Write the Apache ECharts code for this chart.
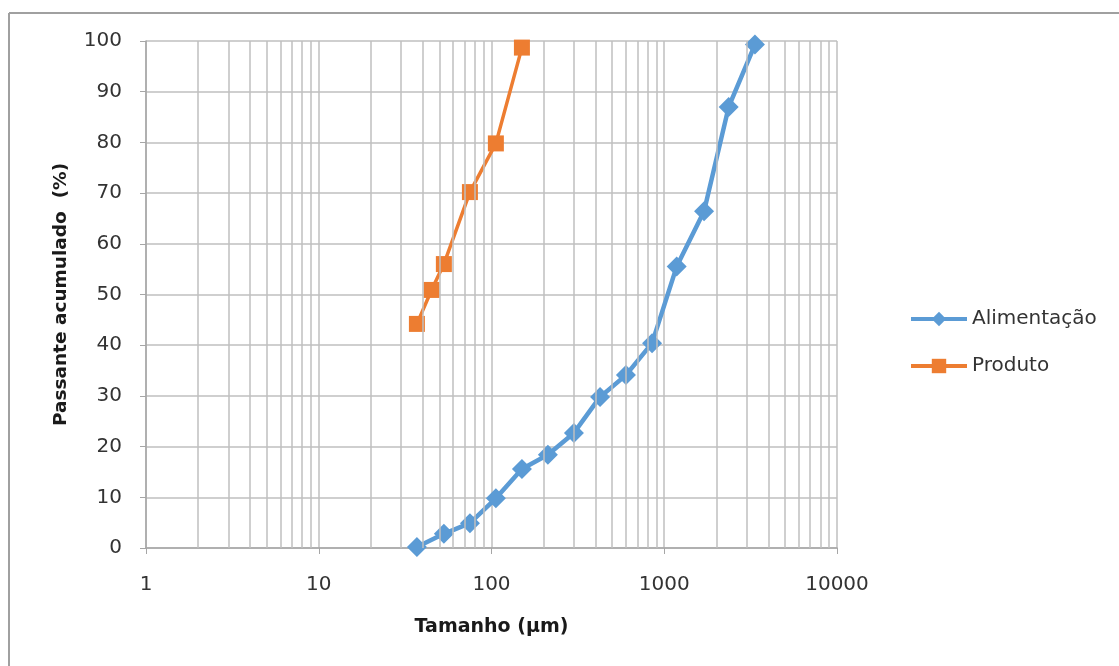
<!DOCTYPE html>
<html>
<head>
<meta charset="utf-8">
<script src="https://cdn.jsdelivr.net/npm/echarts@6/dist/echarts.min.js"></script>
<style>
html,body{margin:0;padding:0;background:#fff;}
#c{width:1119px;height:666px;}
</style>
</head>
<body>
<div id="c"></div>
<script>
// Data
const alimentacaoSize = [37, 53, 75, 106, 150, 212, 300, 425, 600, 850, 1180, 1700, 2360, 3350];
const alimentacaoPass = [0.2, 2.8, 4.9, 9.8, 15.6, 18.4, 22.7, 29.8, 34.1, 40.4, 55.5, 66.4, 87.0, 99.3];
const produtoSize = [37, 45, 53, 75, 106, 150];
const produtoPass = [44.2, 50.9, 56.0, 70.2, 79.8, 98.7];
const xTickLabels = [1, 10, 100, 1000, 10000];
const minorGridValues = [2,3,4,5,6,7,8,9,20,30,40,50,60,70,80,90,200,300,400,500,600,700,800,900,2000,3000,4000,5000,6000,7000,8000,9000];
const seriesNames = ['Alimentação', 'Produto'];

const FONT = '"DejaVu Sans", "Open Sans", sans-serif';
const GRID_COLOR = '#BFBFBF';
const AXIS_COLOR = '#A6A6A6';

const chart = echarts.init(document.getElementById('c'), null, {renderer: 'canvas'});
chart.setOption({
  animation: false,
  backgroundColor: '#fff',
  graphic: [
    {type: 'line', shape: {x1: 9, y1: 13, x2: 1119, y2: 13}, style: {stroke: '#A0A0A0', lineWidth: 2}},
    {type: 'line', shape: {x1: 9, y1: 13, x2: 9, y2: 666}, style: {stroke: '#A0A0A0', lineWidth: 2}}
  ],
  grid: {left: 146, right: 282, top: 41, bottom: 118, containLabel: false},
  legend: {
    data: seriesNames,
    orient: 'vertical',
    left: 904,
    top: 304,
    itemWidth: 56,
    itemHeight: 18,
    itemGap: 27,
    lineStyle: {width: 4},
    textStyle: {fontFamily: FONT, fontSize: 20, color: '#333333'}
  },
  xAxis: {
    type: 'log',
    logBase: 10,
    min: 1,
    max: 10000,
    name: 'Tamanho (µm)',
    nameLocation: 'middle',
    nameGap: 70,
    nameTextStyle: {fontFamily: FONT, fontSize: 19, fontWeight: 'bold', color: '#1a1a1a'},
    axisLine: {show: true, lineStyle: {color: AXIS_COLOR, width: 1.5}},
    axisTick: {show: true, length: 6, lineStyle: {color: AXIS_COLOR}},
    axisLabel: {fontFamily: FONT, fontSize: 20, color: '#333333', margin: 27,
      formatter: function (v) { return xTickLabels.indexOf(v) >= 0 ? String(v) : ''; }},
    splitLine: {show: true, lineStyle: {color: GRID_COLOR, width: 1.5}}
  },
  yAxis: {
    type: 'value',
    min: 0,
    max: 100,
    interval: 10,
    name: 'Passante acumulado  (%)',
    nameLocation: 'middle',
    nameRotate: 90,
    nameGap: 75,
    nameTextStyle: {fontFamily: FONT, fontSize: 18.5, fontWeight: 'bold', color: '#1a1a1a'},
    axisLine: {show: true, lineStyle: {color: AXIS_COLOR, width: 1.5}},
    axisTick: {show: true, length: 6, lineStyle: {color: AXIS_COLOR}},
    axisLabel: {fontFamily: FONT, fontSize: 20, color: '#333333', margin: 24},
    splitLine: {show: true, lineStyle: {color: GRID_COLOR, width: 1.5}}
  },
  series: [
    {
      name: 'minorGrid',
      type: 'line',
      data: [],
      silent: true,
      z: 0,
      markLine: {
        silent: true,
        symbol: ['none', 'none'],
        label: {show: false},
        animation: false,
        lineStyle: {type: 'solid', color: GRID_COLOR, width: 1.5},
        emphasis: {disabled: true},
        data: minorGridValues.map(v => ({xAxis: v}))
      }
    },
    {
      name: seriesNames[0],
      type: 'line',
      z: 3,
      data: alimentacaoSize.map((s, i) => [s, alimentacaoPass[i]]),
      symbol: 'diamond',
      symbolSize: 20,
      lineStyle: {color: '#5B9BD5', width: 4.5},
      itemStyle: {color: '#5B9BD5'}
    },
    {
      name: seriesNames[1],
      type: 'line',
      z: 4,
      data: produtoSize.map((s, i) => [s, produtoPass[i]]),
      symbol: 'rect',
      symbolSize: 16,
      lineStyle: {color: '#ED7D31', width: 3.5},
      itemStyle: {color: '#ED7D31'}
    }
  ]
});
</script>
</body>
</html>
